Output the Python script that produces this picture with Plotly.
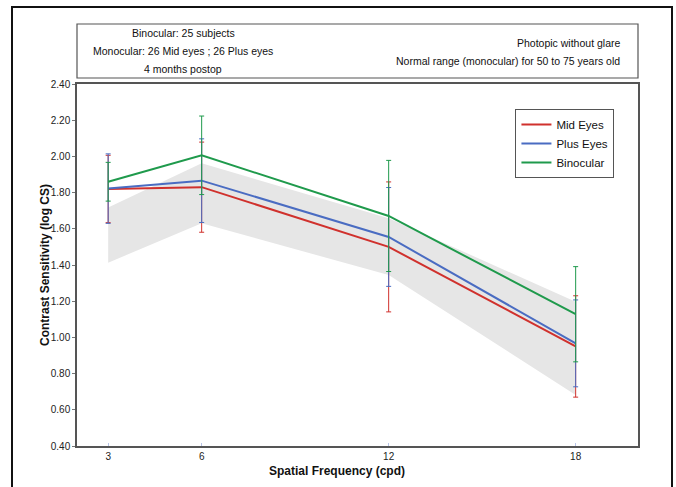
import plotly.graph_objects as go

# ---- data ----
freq = [3, 6, 12, 18]
tick_labels = ["3", "6", "12", "18"]

mid_mean = [1.82, 1.83, 1.50, 0.95]
mid_sd = [0.186, 0.249, 0.359, 0.280]

plus_mean = [1.822, 1.866, 1.555, 0.967]
plus_sd = [0.192, 0.231, 0.273, 0.240]

bino_mean = [1.86, 2.006, 1.671, 1.128]
bino_sd = [0.107, 0.217, 0.307, 0.263]

norm_upper = [1.717, 1.962, 1.658, 1.197]
norm_lower = [1.413, 1.630, 1.345, 0.682]

series_names = ["Mid Eyes", "Plus Eyes", "Binocular"]
colors = ["#d0312d", "#4a6cc2", "#1f9a4c"]

FONT = "Liberation Sans, Arial, sans-serif"

fig = go.Figure()

# normal range band
fig.add_trace(go.Scatter(x=freq, y=norm_upper, mode="lines", line=dict(width=0, color="#e6e6e6"),
                         showlegend=False, hoverinfo="skip"))
fig.add_trace(go.Scatter(x=freq, y=norm_lower, mode="lines", line=dict(width=0, color="#e6e6e6"),
                         fill="tonexty", fillcolor="#e6e6e6", showlegend=False, hoverinfo="skip"))

for name, mean, sd, col in zip(series_names, [mid_mean, plus_mean, bino_mean],
                               [mid_sd, plus_sd, bino_sd], colors):
    fig.add_trace(go.Scatter(
        x=freq, y=mean, mode="lines", name=name,
        line=dict(color=col, width=2),
        error_y=dict(type="data", array=sd, visible=True, color=col, thickness=1, width=2.5),
    ))

fig.update_layout(
    width=676, height=487,
    margin=dict(l=77, r=38, t=84, b=41),
    paper_bgcolor="white", plot_bgcolor="white",
    font=dict(family=FONT, color="#222222", size=10),
    legend=dict(x=0.958, y=0.931, xanchor="right", yanchor="top",
                bordercolor="#555555", borderwidth=1, bgcolor="white",
                font=dict(size=11.5, color="#111111"), itemwidth=30,
                traceorder="normal", tracegroupgap=0),
    xaxis=dict(range=[2, 20], tickvals=freq, ticktext=tick_labels,
               showgrid=False, zeroline=False,
               showline=True, linecolor="#555555", linewidth=1.5, mirror=True,
               ticks="inside", ticklen=3, tickcolor="#b8c4e8",
               tickfont=dict(size=10, family=FONT, color="#222222")),
    yaxis=dict(range=[0.4, 2.4], dtick=0.2, tick0=0.4, tickformat=".2f",
               showgrid=False, zeroline=False,
               showline=True, linecolor="#555555", linewidth=1.5, mirror=True,
               ticks="outside", ticklen=3, tickcolor="#777777",
               tickfont=dict(size=10, family=FONT, color="#222222")),
)

shapes = [
    # outer frame
    dict(type="rect", xref="paper", yref="paper",
         x0=(12 - 77) / 561, x1=(672 - 77) / 561,
         y0=(446 - 500) / 362, y1=(446 - 7) / 362,
         line=dict(color="#111111", width=2), layer="below"),
    # info box
    dict(type="rect", xref="paper", yref="paper",
         x0=0, x1=1, y0=(446 - 78) / 362, y1=(446 - 24) / 362,
         line=dict(color="#555555", width=1.2)),
]
fig.update_layout(shapes=shapes)

def px_x(px):
    return (px - 77) / 561

def px_y(py):
    return (446 - py) / 362

ann = []
left_lines = [("Binocular: 25 subjects", 33), ("Monocular: 26 Mid eyes ; 26 Plus eyes", 51),
              ("4 months postop", 69)]
for txt, y in left_lines:
    ann.append(dict(text=txt, x=px_x(183), y=px_y(y), xref="paper", yref="paper",
                    xanchor="center", yanchor="middle", showarrow=False,
                    font=dict(size=10.5, family=FONT, color="#111111")))
right_lines = [("Photopic without glare", 43), ("Normal range (monocular) for 50 to 75 years old", 61)]
for txt, y in right_lines:
    ann.append(dict(text=txt, x=px_x(622), y=px_y(y), xref="paper", yref="paper",
                    xanchor="right", yanchor="middle", showarrow=False,
                    font=dict(size=10.5, family=FONT, color="#111111")))
ann.append(dict(text="<b>Contrast Sensitivity (log CS)</b>", x=px_x(45), y=0.5,
                xref="paper", yref="paper", textangle=-90, xanchor="center", yanchor="middle",
                showarrow=False, font=dict(size=12, family=FONT, color="#111111")))
ann.append(dict(text="<b>Spatial Frequency (cpd)</b>", x=px_x(337), y=px_y(471),
                xref="paper", yref="paper", xanchor="center", yanchor="middle",
                showarrow=False, font=dict(size=12, family=FONT, color="#111111")))
fig.update_layout(annotations=ann)

fig.write_html("out.html", config={"displayModeBar": False},
               post_script="document.body.style.margin='0px';")
